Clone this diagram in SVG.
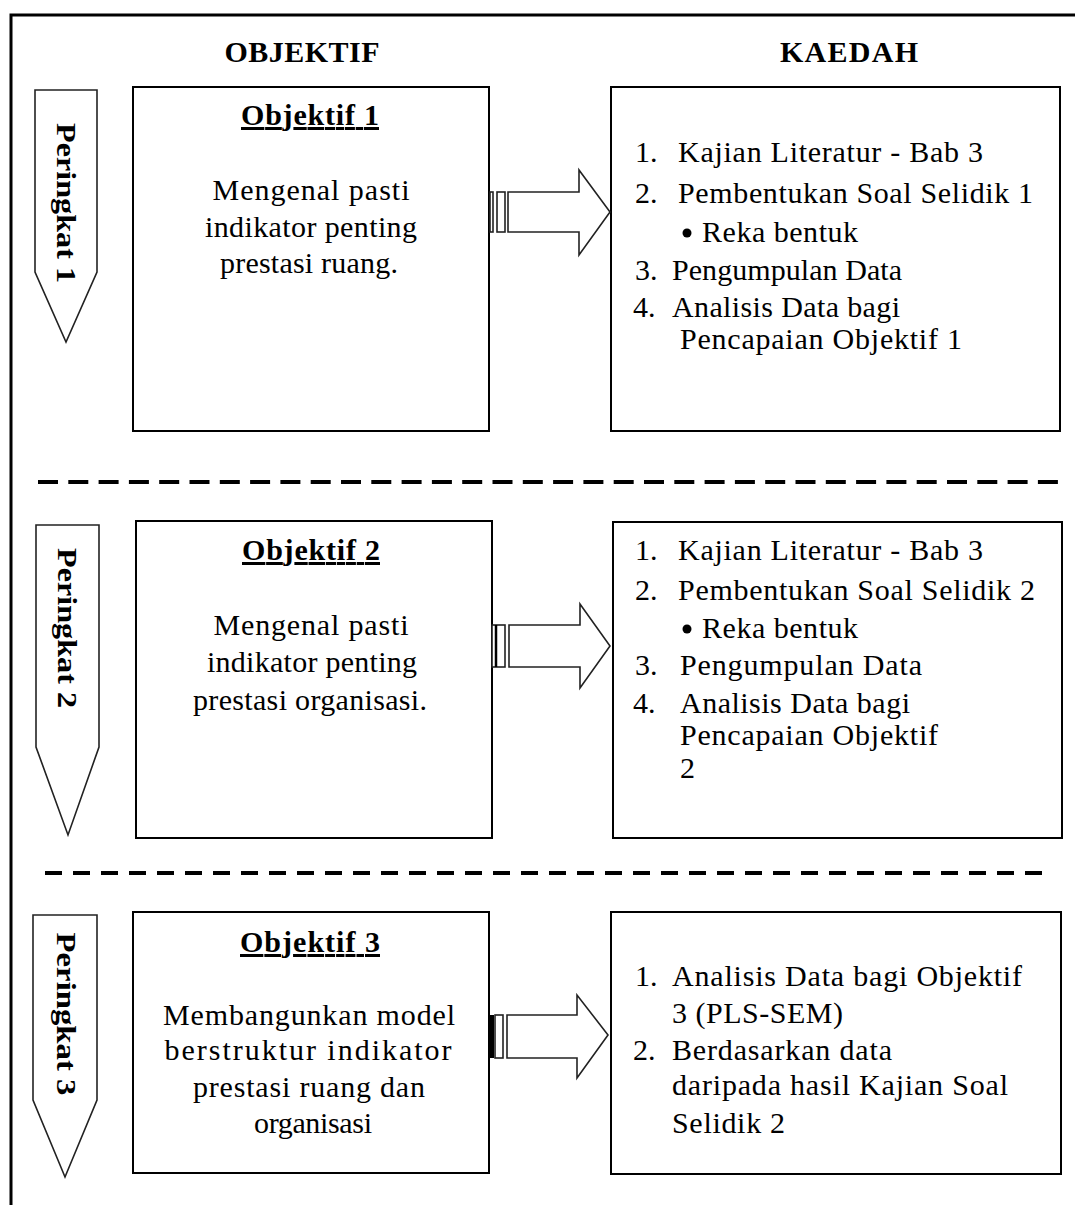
<svg xmlns="http://www.w3.org/2000/svg" width="1075" height="1205" viewBox="0 0 1075 1205">
<style>
text{font-family:"Liberation Serif","Times New Roman",serif;fill:#000}
.hd{font-size:30px;font-weight:bold}
.ob{font-size:30px;font-weight:bold;text-decoration:underline}
.tx{font-size:30px}
.pk{font-size:27px;font-weight:bold}
.box{fill:#fff;stroke:#000;stroke-width:2}
.pent{fill:#fff;stroke:#222;stroke-width:1.6}
.arr{fill:#fff;stroke:#222;stroke-width:1.6}
.dash{stroke:#000;stroke-width:4}
</style>
<rect width="1075" height="1205" fill="#fff"/>
<path d="M11,1205 V15 H1075" fill="none" stroke="#000" stroke-width="3"/>
<text class="hd" x="302" y="62" text-anchor="middle" textLength="155">OBJEKTIF</text>
<text class="hd" x="849" y="62" text-anchor="middle" textLength="138">KAEDAH</text>
<line class="dash" x1="38" y1="482" x2="1062" y2="482" stroke-dasharray="20 10.3"/>
<line class="dash" x1="45" y1="873" x2="1042" y2="873" stroke-dasharray="17 11"/>

<g id="peringkat1">
<polygon class="pent" points="35,90 97,90 97,272 66,342 35,272"/>
<text class="pk" transform="translate(57,203) rotate(90)" text-anchor="middle" textLength="160" lengthAdjust="spacingAndGlyphs">Peringkat 1</text>
</g>
<g id="objektif1">
<rect class="box" x="133" y="87" width="356" height="344"/>
<text class="ob" x="310" y="125" text-anchor="middle" textLength="138">Objektif 1</text>
<text class="tx" x="311" y="200" text-anchor="middle" textLength="197">Mengenal pasti</text>
<text class="tx" x="311" y="237" text-anchor="middle" textLength="212">indikator penting</text>
<text class="tx" x="309" y="273" text-anchor="middle" textLength="178">prestasi ruang.</text>
</g>
<g id="kaedah1">
<rect class="box" x="611" y="87" width="449" height="344"/>
<text class="tx" x="635" y="162">1.</text>
<text class="tx" x="678" y="162" textLength="305">Kajian Literatur - Bab 3</text>
<text class="tx" x="635" y="203">2.</text>
<text class="tx" x="678" y="203" textLength="355">Pembentukan Soal Selidik 1</text>
<circle cx="687" cy="233" r="4.5"/>
<text class="tx" x="702" y="242" textLength="156">Reka bentuk</text>
<text class="tx" x="635" y="280">3.</text>
<text class="tx" x="672" y="280" textLength="230">Pengumpulan Data</text>
<text class="tx" x="633" y="317">4.</text>
<text class="tx" x="672" y="317" textLength="228">Analisis Data bagi</text>
<text class="tx" x="680" y="349" textLength="282">Pencapaian Objektif 1</text>
</g>

<g id="peringkat2">
<polygon class="pent" points="36,525 99,525 99,747 68,835 36,747"/>
<text class="pk" transform="translate(58,628) rotate(90)" text-anchor="middle" textLength="160" lengthAdjust="spacingAndGlyphs">Peringkat 2</text>
</g>
<g id="objektif2">
<rect class="box" x="136" y="521" width="356" height="317"/>
<text class="ob" x="311" y="560" text-anchor="middle" textLength="138">Objektif 2</text>
<text class="tx" x="311" y="635" text-anchor="middle" textLength="195">Mengenal pasti</text>
<text class="tx" x="312" y="672" text-anchor="middle" textLength="210">indikator penting</text>
<text class="tx" x="310" y="710" text-anchor="middle" textLength="234">prestasi organisasi.</text>
</g>
<g id="kaedah2">
<rect class="box" x="613" y="522" width="449" height="316"/>
<text class="tx" x="635" y="560">1.</text>
<text class="tx" x="678" y="560" textLength="305">Kajian Literatur - Bab 3</text>
<text class="tx" x="635" y="600">2.</text>
<text class="tx" x="678" y="600" textLength="357">Pembentukan Soal Selidik 2</text>
<circle cx="687" cy="629" r="4.5"/>
<text class="tx" x="702" y="638" textLength="156">Reka bentuk</text>
<text class="tx" x="635" y="675">3.</text>
<text class="tx" x="680" y="675" textLength="242">Pengumpulan Data</text>
<text class="tx" x="633" y="713">4.</text>
<text class="tx" x="680" y="713" textLength="230">Analisis Data bagi</text>
<text class="tx" x="680" y="745" textLength="258">Pencapaian Objektif</text>
<text class="tx" x="680" y="778">2</text>
</g>

<g id="peringkat3">
<polygon class="pent" points="33,915 97,915 97,1100 65,1177 33,1100"/>
<text class="pk" transform="translate(57,1014) rotate(90)" text-anchor="middle" textLength="163" lengthAdjust="spacingAndGlyphs">Peringkat 3</text>
</g>
<g id="objektif3">
<rect class="box" x="133" y="912" width="356" height="261"/>
<text class="ob" x="310" y="952" text-anchor="middle" textLength="140">Objektif 3</text>
<text class="tx" x="309" y="1025" text-anchor="middle" textLength="292">Membangunkan model</text>
<text class="tx" x="308" y="1060" text-anchor="middle" textLength="287">berstruktur indikator</text>
<text class="tx" x="309" y="1097" text-anchor="middle" textLength="232">prestasi ruang dan</text>
<text class="tx" x="313" y="1133" text-anchor="middle" textLength="118">organisasi</text>
</g>
<g id="kaedah3">
<rect class="box" x="611" y="912" width="450" height="262"/>
<text class="tx" x="635" y="986">1.</text>
<text class="tx" x="672" y="986" textLength="350">Analisis Data bagi Objektif</text>
<text class="tx" x="672" y="1023" textLength="171">3 (PLS-SEM)</text>
<text class="tx" x="633" y="1060">2.</text>
<text class="tx" x="672" y="1060" textLength="220">Berdasarkan data</text>
<text class="tx" x="672" y="1095" textLength="336">daripada hasil Kajian Soal</text>
<text class="tx" x="672" y="1133" textLength="113">Selidik 2</text>
</g>

<g id="connectors">
<g id="arrow1">
<rect class="arr" x="490" y="192" width="3" height="40"/>
<rect class="arr" x="497" y="192" width="8" height="40"/>
<polygon class="arr" points="508,192 579,192 579,170 610,212 579,255 579,232 508,232"/>
</g>
<g id="arrow2">
<rect class="arr" x="492" y="625" width="13" height="42"/>
<line x1="496" y1="625" x2="496" y2="667" stroke="#000" stroke-width="2.5"/>
<polygon class="arr" points="509,625 580,625 580,604 610,646 580,688 580,667 509,667"/>
</g>
<g id="arrow3">
<rect x="490" y="1015" width="4" height="43" fill="#000"/>
<rect class="arr" x="495" y="1015" width="8" height="43"/>
<polygon class="arr" points="507,1015 577,1015 577,995 608,1035 577,1078 577,1058 507,1058"/>
</g>
</g>
</svg>
